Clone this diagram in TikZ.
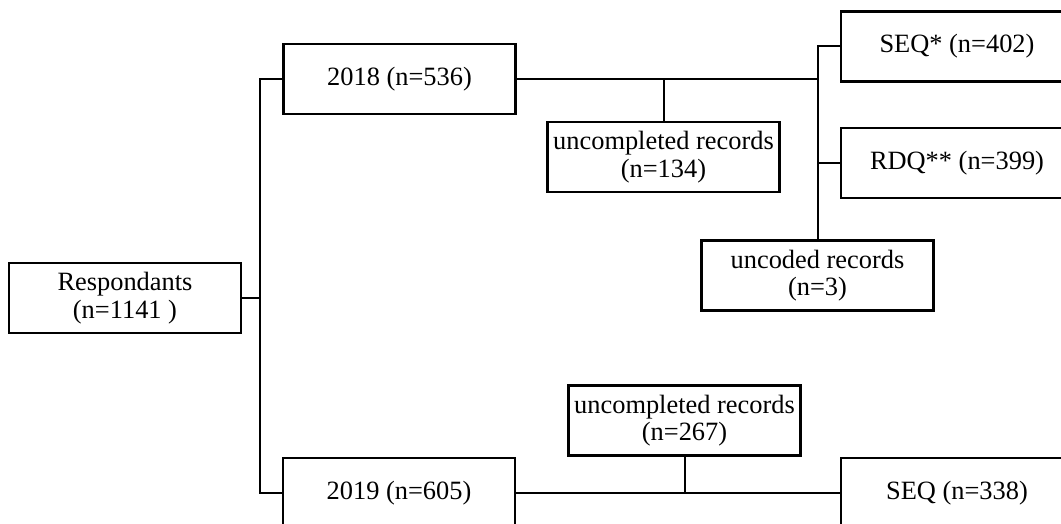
\documentclass[tikz,border=0pt]{standalone}
\usepackage{fontspec}
\setmainfont{Liberation Serif}
\begin{document}
\begin{tikzpicture}[x=0.5pt, y=-0.5pt, line width=1pt,
    box/.style={draw, line width=1.1pt, minimum width=116pt, minimum height=35pt,
        inner sep=0pt, align=center, font=\fontsize{13.2}{13.8}\selectfont}]
    \useasboundingbox (0,0) rectangle (1061,524);
    \clip (0,0) rectangle (1061,524);
    % boxes
    \node[box] (resp) at (125,298) {Respondants\\(n=1141 )};
    \node[box] (y2018) at (399.5,79) {2018 (n=536)};
    \node[box] (unc1) at (663.5,157) {uncompleted records\\(n=134)};
    \node[box] (seq1) at (957,46.5) {SEQ* (n=402)};
    \node[box] (rdq) at (957,163) {RDQ** (n=399)};
    \node[box] (uncod) at (817.5,275.5) {uncoded records\\(n=3)};
    \node[box] (unc2) at (684.5,420.5) {uncompleted records\\(n=267)};
    \node[box] (y2019) at (399,493) {2019 (n=605)};
    \node[box] (seq2) at (957,493) {SEQ (n=338)};
    \coordinate (spine) at (260,298);
    \coordinate (split) at (817,80);
    % connectors
    \draw (resp.east) -- (spine);
    \draw (y2018.west) -| (spine) |- (y2019.west);
    \draw (y2018.east) -- (y2018.east -| split);
    \draw (unc1.north) -- (unc1.north |- y2018.east);
    \draw (seq1.west) -| (uncod.north);
    \draw (rdq.west) -- (rdq.west -| uncod.north);
    \draw (y2019.east) -- (seq2.west);
    \draw (unc2.south) -- (unc2.south |- y2019.east);
\end{tikzpicture}
\end{document}
